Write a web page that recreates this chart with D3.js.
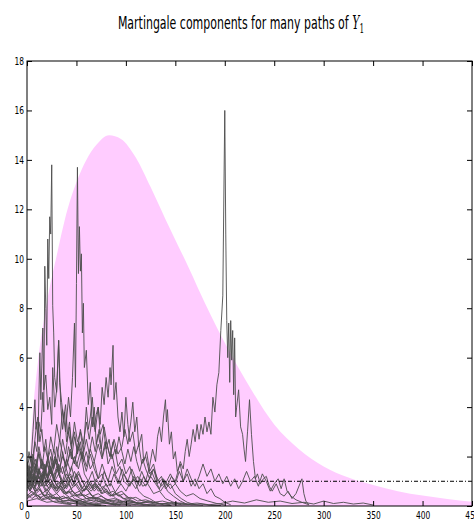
<!DOCTYPE html>
<html>
<head>
<meta charset="utf-8">
<script src="https://cdn.jsdelivr.net/npm/d3@7"></script>
<style>
  body { margin: 0; background: #fff; }
  svg text { font-family: "DejaVu Sans", sans-serif; }
</style>
</head>
<body>
<div id="chart"></div>
<script>
// envelope (pink area)
const envX = [0, 3, 6, 11, 20, 31, 41, 50, 60, 70, 83, 95, 110, 125, 140, 164, 180, 204, 221, 250, 275, 300, 325, 350, 375, 400, 425, 450, 460];
const envY = [0, 2, 3.8, 5.8, 8.2, 10.3, 12.0, 13.1, 14.0, 14.6, 15, 14.85, 14.1, 12.9, 11.6, 9.6, 8.2, 6.3, 5.1, 3.3, 2.3, 1.6, 1.15, 0.85, 0.6, 0.42, 0.28, 0.17, 0.14];

const levelY = 1;
const xTicks = [0, 50, 100, 150, 200, 250, 300, 350, 400, 450];
const yTicks = [0, 2, 4, 6, 8, 10, 12, 14, 16, 18];

// paths as [t, value]
const p1 = [[0,1.2],[2,1.6],[4,1.1],[6,2.0],[8,2.6],[10,2.2],[12,3.4],[14,3.0],[16,4.6],[17,3.8],[18,9.7],[19,8.0],[20,6.5],[21,10.8],[22,9.2],[23,11.7],[24,11.0],[25,13.8],[26,8.1],[27,7.0],[28,5.2],[30,4.6],[32,6.7],[34,4.2],[36,3.1],[38,3.8],[40,2.6],[43,3.2],[46,2.0],[50,1.6],[54,2.2],[58,1.3],[62,1.0],[66,1.4],[70,0.8],[75,0.6],[80,0.9],[85,0.5],[90,0.3],[96,0.2],[102,0.1],[110,0.05]];
const p2 = [[0,0.9],[3,1.3],[6,0.8],[9,1.6],[12,2.1],[15,1.5],[18,2.4],[21,1.9],[24,2.8],[27,2.2],[30,3.3],[33,2.6],[36,3.9],[39,3.0],[42,4.4],[44,3.6],[46,5.2],[48,7.4],[49,4.8],[50,9.0],[51,13.7],[52,9.4],[53,11.3],[54,9.5],[55,10.2],[56,7.0],[57,8.2],[58,5.6],[60,6.3],[62,4.1],[64,5.0],[66,3.2],[68,4.0],[70,2.5],[73,3.1],[76,2.0],[79,2.6],[82,1.7],[86,2.1],[90,1.3],[94,1.6],[98,1.0],[103,0.8],[108,1.1],[113,0.6],[118,0.4],[124,0.3],[130,0.15],[138,0.05]];
const p3 = [[0,1.5],[3,1.1],[6,1.8],[9,1.3],[12,2.2],[15,1.6],[18,1.2],[21,1.9],[24,1.4],[27,1.0],[30,1.5],[34,1.1],[38,0.7],[42,1.2],[46,0.8],[50,1.3],[54,0.9],[58,0.6],[62,1.0],[66,0.7],[70,1.1],[74,0.8],[78,1.4],[82,1.0],[86,1.6],[90,1.2],[94,0.9],[98,1.3],[102,1.0],[106,1.5],[110,1.1],[114,0.8],[118,1.2],[122,0.9],[126,1.4],[130,1.0],[134,0.7],[138,1.1],[142,0.8],[146,1.2],[150,1.0],[152,1.3],[155,1.8],[158,1.5],[160,2.2],[162,2.7],[164,2.0],[166,2.5],[168,3.1],[170,2.6],[172,3.3],[174,2.7],[176,3.3],[178,2.9],[180,3.6],[182,3.0],[184,3.4],[186,2.9],[188,4.4],[190,3.8],[192,4.9],[194,5.4],[196,7.1],[198,8.5],[200,16.0],[201,11.0],[202,7.5],[203,6.0],[204,7.4],[205,5.0],[206,7.5],[207,5.9],[208,7.1],[209,4.5],[210,6.8],[211,3.6],[212,4.0],[214,4.7],[216,3.2],[218,2.9],[219.5,2.3],[221,1.8],[223,3.0],[225,4.3],[227,2.9],[229,1.8],[231,1.1],[233,1.3],[236,0.9],[239,1.1],[242,1.2],[245,0.8],[248,0.6],[252,0.9],[256,0.5],[260,0.4],[264,0.6],[268,0.3],[272,0.5],[276,0.9],[278,1.1],[280,0.5],[282,0.2],[285,0.05]];
const p5 = [[0,0.8],[4,1.2],[8,0.7],[12,1.5],[16,1.0],[20,1.8],[24,1.3],[28,2.0],[32,1.4],[36,1.0],[40,1.6],[44,2.3],[48,1.7],[52,2.6],[56,2.0],[60,1.4],[64,2.1],[68,1.5],[72,1.1],[76,1.7],[80,1.2],[84,0.8],[88,1.3],[92,0.9],[96,1.5],[100,1.1],[104,0.8],[108,1.2],[112,0.9],[116,1.4],[120,1.0],[124,1.6],[127,2.3],[130,1.8],[132,2.8],[134,3.2],[136,2.6],[138,3.6],[140,4.3],[141,3.4],[142,3.9],[144,2.5],[146,3.0],[148,1.9],[150,2.2],[152,1.4],[155,1.7],[158,1.0],[162,1.3],[166,0.8],[170,1.1],[174,0.7],[178,0.9],[182,0.5],[186,0.7],[190,0.4],[195,0.3],[200,0.15],[206,0.05]];
const p6 = [[0,1.1],[4,0.7],[8,1.2],[12,0.8],[16,1.4],[20,1.0],[24,1.6],[28,1.1],[32,1.7],[36,1.3],[40,1.9],[44,1.4],[48,2.0],[52,1.5],[56,2.2],[60,1.6],[64,2.3],[68,1.8],[72,2.5],[76,1.9],[80,2.6],[84,2.0],[88,2.7],[92,2.1],[96,2.4],[99,3.1],[102,2.5],[105,3.4],[107,4.2],[109,3.0],[111,3.6],[113,2.4],[116,2.9],[118,1.8],[121,2.2],[124,1.4],[128,1.7],[132,1.0],[136,1.2],[140,0.7],[145,0.9],[150,0.5],[156,0.3],[162,0.15],[170,0.05]];
const p7 = [[0,1.7],[3,1.2],[6,2.1],[9,1.6],[12,2.4],[15,1.8],[18,1.3],[21,2.0],[24,1.5],[27,2.3],[30,1.8],[33,2.7],[36,2.1],[39,1.6],[42,2.4],[45,1.9],[48,2.8],[51,2.2],[54,3.1],[57,2.5],[60,3.4],[63,2.7],[66,3.6],[69,3.0],[72,4.0],[74,3.3],[76,4.8],[78,4.1],[80,5.2],[82,4.4],[84,5.6],[85,4.9],[87,6.5],[88,4.3],[90,5.0],[92,3.6],[94,3.0],[96,3.8],[98,2.8],[100,4.4],[102,3.3],[104,2.6],[107,3.0],[110,2.1],[113,2.5],[116,1.7],[120,2.0],[124,1.3],[128,1.5],[132,0.9],[137,1.1],[142,0.6],[148,0.4],[155,0.2],[163,0.05]];
const p8 = [[0,0.9],[2,1.4],[4,2.0],[6,1.6],[8,2.7],[10,3.4],[11,2.6],[13,6.2],[14,4.3],[16,7.2],[17,4.7],[19,5.3],[21,3.9],[23,4.4],[25,3.3],[26,5.6],[28,4.0],[30,4.7],[32,6.7],[33,5.0],[35,4.2],[37,3.5],[39,4.1],[41,2.9],[43,3.4],[45,2.5],[48,3.0],[51,2.1],[54,2.6],[57,1.8],[60,2.2],[64,1.5],[68,1.8],[72,1.1],[76,1.3],[80,0.8],[85,0.9],[90,0.5],[96,0.6],[102,0.3],[110,0.15],[118,0.05]];
const p9 = [[0,1.0],[3,0.6],[6,1.1],[9,0.8],[12,1.4],[15,1.0],[18,1.7],[21,1.2],[24,2.0],[27,1.5],[30,2.4],[33,1.8],[36,2.7],[39,2.1],[42,3.0],[45,2.3],[48,3.4],[51,2.6],[54,3.0],[57,2.2],[60,4.0],[62,3.1],[64,3.6],[66,4.4],[68,3.2],[70,3.7],[72,4.0],[74,2.9],[77,3.3],[80,2.3],[83,2.7],[86,1.9],[89,2.3],[92,1.6],[96,1.9],[100,1.3],[104,1.6],[108,1.0],[112,1.2],[117,0.8],[122,0.9],[128,0.5],[134,0.6],[140,0.3],[148,0.15],[156,0.05]];
const p10 = [[0,1.5],[2,2.2],[4,1.8],[6,3.0],[8,4.3],[9,3.1],[11,3.6],[13,2.6],[15,3.1],[17,2.2],[19,2.7],[21,1.9],[24,2.3],[27,1.6],[30,1.9],[33,1.3],[36,1.6],[40,1.1],[44,1.3],[48,0.8],[52,1.0],[56,0.6],[61,0.7],[66,0.4],[72,0.3],[80,0.15],[88,0.05]];
const p11 = [[0,1.8],[4,1.3],[8,1.6],[12,1.1],[16,1.3],[20,0.9],[24,1.1],[28,0.7],[32,0.8],[37,0.5],[42,0.6],[48,0.3],[55,0.2],[62,0.1],[70,0.03]];
const p12 = [[0,1.2],[4,1.6],[8,1.0],[12,1.4],[16,1.8],[20,1.2],[24,1.5],[28,1.0],[32,1.3],[36,0.9],[40,1.1],[45,0.7],[50,0.9],[55,0.6],[60,0.7],[66,0.4],[72,0.5],[79,0.3],[86,0.2],[95,0.1],[105,0.03]];
const p13 = [[0,0.6],[4,0.9],[8,0.6],[12,0.8],[16,0.5],[20,0.7],[25,0.4],[30,0.5],[35,0.3],[41,0.35],[48,0.2],[56,0.15],[65,0.08],[75,0.03]];
const p14 = [[0,1.0],[3,1.4],[6,1.1],[9,1.7],[12,1.3],[15,1.9],[18,1.4],[21,1.1],[24,1.5],[27,1.2],[30,1.6],[33,1.2],[36,0.9],[40,1.3],[44,1.0],[48,1.4],[52,1.0],[56,0.7],[60,1.0],[64,0.7],[68,0.9],[72,0.6],[77,0.8],[82,0.5],[87,0.6],[92,0.4],[98,0.5],[104,0.3],[110,0.35],[117,0.2],[125,0.15],[134,0.1],[145,0.05]];
const p15 = [[0,0.4],[5,0.6],[10,0.4],[15,0.5],[20,0.3],[26,0.35],[32,0.2],[40,0.15],[50,0.08],[60,0.03]];
const p16 = [[0,1.4],[3,1.0],[6,1.3],[9,0.9],[12,1.2],[15,0.8],[18,1.0],[22,0.7],[26,0.9],[30,0.6],[34,0.8],[38,0.5],[43,0.6],[48,0.4],[54,0.5],[60,0.3],[67,0.35],[75,0.2],[84,0.12],[95,0.05]];
const p17 = [[0,0.3],[8,0.5],[16,0.3],[24,0.4],[32,0.25],[40,0.35],[50,0.2],[60,0.3],[70,0.15],[80,0.25],[90,0.1],[100,0.2],[112,0.1],[124,0.18],[136,0.08],[148,0.15],[160,0.07],[172,0.12],[184,0.05],[196,0.1],[208,0.2],[220,0.12],[232,0.25],[244,0.15],[256,0.2],[268,0.1],[280,0.15],[290,0.08],[300,0.2],[310,0.1],[320,0.15],[330,0.08],[340,0.12],[350,0.04]];
const p18 = [[0,0.7],[5,1.0],[10,0.6],[15,0.9],[20,0.5],[25,0.8],[30,0.6],[35,1.0],[40,0.7],[45,1.1],[50,0.8],[55,0.5],[60,0.8],[65,0.6],[70,0.9],[75,0.5],[80,0.7],[85,0.4],[90,0.6],[95,0.9],[100,0.6],[105,1.0],[110,0.7],[115,1.1],[120,0.8],[125,1.2],[130,0.9],[135,0.6],[140,0.9],[145,1.3],[150,0.9],[154,1.4],[158,1.0],[162,1.5],[166,1.1],[170,0.8],[174,1.2],[178,1.7],[182,1.2],[186,1.5],[190,1.0],[194,1.3],[198,0.9],[202,1.2],[206,0.8],[210,1.1],[214,0.7],[218,1.0],[222,1.4],[226,1.0],[230,1.2],[234,0.8],[238,1.3],[242,1.0],[246,0.6],[250,0.9],[254,1.1],[257,0.7],[260,1.1],[263,0.6],[267,0.4],[272,0.25],[278,0.15],[285,0.05]];
const p19 = [[0,0.8],[6,0.5],[12,0.7],[18,0.4],[24,0.5],[30,0.3],[37,0.4],[44,0.2],[52,0.25],[60,0.12],[70,0.06],[80,0.02]];
const p20 = [[0,1.1],[4,0.8],[8,1.2],[12,0.9],[16,1.3],[20,1.0],[24,1.4],[28,1.0],[32,0.7],[36,1.0],[40,0.8],[44,1.2],[48,0.9],[52,1.3],[56,1.0],[60,0.7],[64,0.9],[68,0.6],[72,0.8],[76,0.5],[81,0.6],[86,0.4],[92,0.5],[98,0.3],[105,0.35],[112,0.2],[120,0.25],[128,0.15],[137,0.2],[146,0.1],[156,0.12],[166,0.05],[176,0.08],[186,0.03],[196,0.02]];
const p21 = [[0,0.5],[5,0.3],[10,0.45],[15,0.25],[21,0.3],[28,0.15],[36,0.1],[45,0.05]];
const p22 = [[0,1.6],[3,2.0],[6,1.5],[9,1.9],[12,1.4],[15,1.1],[18,1.5],[21,1.1],[24,0.8],[27,1.1],[30,0.8],[34,1.0],[38,0.7],[42,0.9],[46,0.6],[50,0.4],[55,0.5],[60,0.3],[66,0.35],[72,0.2],[80,0.1],[90,0.04]];
const p23 = [[0,0.2],[10,0.3],[20,0.15],[30,0.2],[40,0.1],[50,0.12],[60,0.05],[75,0.03]];
const p24 = [[0,1.3],[3,0.9],[6,1.2],[9,1.6],[12,1.2],[15,0.9],[18,1.3],[22,1.0],[26,1.4],[30,1.9],[33,1.4],[36,2.2],[39,1.6],[42,1.2],[45,1.6],[48,1.1],[52,1.4],[56,1.0],[60,0.7],[64,1.0],[68,0.7],[73,0.9],[78,0.6],[84,0.4],[90,0.5],[97,0.3],[105,0.2],[114,0.1],[124,0.04]];
const p25 = [[0,0.9],[4,1.3],[8,1.0],[12,1.5],[16,1.2],[20,1.7],[24,1.3],[28,1.9],[32,1.4],[36,2.0],[40,1.6],[44,2.2],[48,1.7],[52,2.4],[56,1.9],[60,2.7],[63,2.1],[66,2.8],[69,2.2],[72,2.9],[75,2.3],[78,3.2],[81,2.5],[84,2.0],[87,2.6],[90,2.1],[93,2.8],[96,2.2],[99,1.7],[102,2.3],[105,1.8],[108,2.4],[111,1.8],[114,1.4],[117,1.9],[120,1.5],[124,1.1],[128,1.5],[132,1.1],[136,0.8],[140,1.0],[145,0.7],[150,0.9],[155,0.6],[161,0.4],[168,0.5],[175,0.3],[183,0.2],[192,0.1],[200,0.04]];
const p26 = [[0,0.9],[3,0.6],[6,0.8],[9,0.5],[13,0.65],[17,0.4],[21,0.5],[26,0.3],[31,0.35],[37,0.2],[44,0.22],[52,0.12],[61,0.08],[72,0.04]];
const p27 = [[0,1.3],[4,1.0],[8,1.3],[12,0.9],[16,1.1],[20,0.8],[25,1.0],[30,0.7],[35,0.8],[40,0.5],[46,0.6],[52,0.4],[58,0.45],[65,0.3],[72,0.32],[80,0.2],[89,0.22],[98,0.12],[108,0.14],[118,0.07],[130,0.04]];
const p28 = [[0,0.35],[6,0.5],[12,0.3],[18,0.45],[24,0.28],[30,0.35],[36,0.2],[44,0.25],[52,0.15],[60,0.18],[70,0.1],[80,0.12],[92,0.06],[105,0.08],[118,0.04],[132,0.05],[146,0.02]];
const p29 = [[0,1.6],[3,1.2],[6,1.5],[9,1.1],[12,0.8],[15,1.1],[18,0.8],[22,1.0],[26,0.7],[30,0.5],[34,0.7],[38,0.5],[43,0.35],[48,0.45],[54,0.3],[60,0.2],[67,0.25],[75,0.15],[84,0.08],[94,0.04]];
const p30 = [[0,0.7],[4,1.0],[8,0.8],[12,1.2],[16,0.9],[20,0.6],[24,0.9],[28,0.7],[32,1.0],[36,0.7],[40,0.5],[44,0.7],[48,0.5],[53,0.6],[58,0.4],[63,0.5],[69,0.3],[75,0.4],[81,0.25],[88,0.3],[95,0.18],[103,0.22],[111,0.12],[120,0.15],[130,0.08],[140,0.1],[152,0.05],[165,0.06],[178,0.03]];

const paths = [p11, p12, p13, p14, p15, p16, p17, p19, p20, p21, p22, p23, p24, p26, p27, p28, p29, p30,
               p18, p25, p10, p9, p6, p5, p7, p8, p1, p2, p3];

const width = 474, height = 521;
const margin = { left: 27, top: 61, right: 2, bottom: 15 };
const squeeze = 0.68; // the original figure's text is narrowed horizontally

const svg = d3.select("#chart").append("svg")
    .attr("width", width)
    .attr("height", height);

const x = d3.scaleLinear().domain([0, 450]).range([margin.left, width - margin.right]);
const y = d3.scaleLinear().domain([0, 18]).range([height - margin.bottom, margin.top]);

svg.append("defs").append("clipPath").attr("id", "plot-clip")
    .append("rect")
    .attr("x", x(0)).attr("y", y(18))
    .attr("width", x(450) - x(0)).attr("height", y(0) - y(18));

const plot = svg.append("g").attr("clip-path", "url(#plot-clip)");

// pink envelope
const envData = envX.map((d, i) => [d, envY[i]]);
plot.append("path")
    .datum(envData)
    .attr("fill", "#ffccff")
    .attr("d", d3.area()
        .x(d => x(d[0]))
        .y0(y(0))
        .y1(d => y(d[1]))
        .curve(d3.curveMonotoneX));

// paths
const line = d3.line().x(d => x(d[0])).y(d => y(d[1]));
plot.selectAll(".mpath")
    .data(paths)
    .enter()
    .append("path")
    .attr("class", "mpath")
    .attr("fill", "none")
    .attr("stroke", "#4d4d4d")
    .attr("stroke-width", 1)
    .attr("stroke-opacity", 0.9)
    .attr("d", line);

// dash-dot level line
plot.append("line")
    .attr("x1", x(0)).attr("x2", x(450))
    .attr("y1", y(levelY)).attr("y2", y(levelY))
    .attr("stroke", "#000")
    .attr("stroke-width", 1)
    .attr("stroke-dasharray", "4,2,1,2");

// axes: ticks inward on all four sides
const tickLen = 5;
svg.append("g")
    .attr("transform", `translate(0,${y(0)})`)
    .call(d3.axisBottom(x).tickValues(xTicks).tickSizeInner(-tickLen).tickSizeOuter(0).tickPadding(5))
    .call(g => g.select(".domain").remove());
svg.append("g")
    .attr("transform", `translate(0,${y(18)})`)
    .call(d3.axisTop(x).tickValues(xTicks).tickSizeInner(-tickLen).tickSizeOuter(0).tickFormat(""))
    .call(g => g.select(".domain").remove());
svg.append("g")
    .attr("transform", `translate(${x(0)},0)`)
    .call(d3.axisLeft(y).tickValues(yTicks).tickSizeInner(-tickLen).tickSizeOuter(0).tickPadding(3))
    .call(g => g.select(".domain").remove());
svg.append("g")
    .attr("transform", `translate(${x(450)},0)`)
    .call(d3.axisRight(y).tickValues(yTicks).tickSizeInner(-tickLen).tickSizeOuter(0).tickFormat(""))
    .call(g => g.select(".domain").remove());

svg.selectAll(".tick text")
    .attr("font-size", 11)
    .attr("font-family", "'DejaVu Sans', sans-serif")
    .attr("fill", "#000");
svg.selectAll(".tick line").attr("stroke", "#000");

// narrow the tick labels the way the original is narrowed
svg.selectAll(".tick text").each(function () {
    const len = this.getComputedTextLength();
    if (len > 0) {
        d3.select(this)
            .attr("textLength", len * squeeze)
            .attr("lengthAdjust", "spacingAndGlyphs");
    }
});

// frame
svg.append("rect")
    .attr("x", x(0)).attr("y", y(18))
    .attr("width", x(450) - x(0)).attr("height", y(0) - y(18))
    .attr("fill", "none")
    .attr("stroke", "#000")
    .attr("stroke-width", 1);

// title, narrowed as a whole
const titleG = svg.append("g")
    .attr("transform", `translate(241,29) scale(0.61,1)`);
const title = titleG.append("text")
    .attr("x", 0)
    .attr("y", 0)
    .attr("text-anchor", "middle")
    .attr("font-size", 18)
    .attr("fill", "#000");
title.append("tspan").text("Martingale components for many paths of ");
title.append("tspan")
    .attr("font-family", "'DejaVu Serif', serif")
    .attr("font-style", "italic")
    .text("Y");
title.append("tspan")
    .attr("font-family", "'DejaVu Serif', serif")
    .attr("font-size", 12)
    .attr("dy", 4)
    .text("1");
</script>
</body>
</html>
